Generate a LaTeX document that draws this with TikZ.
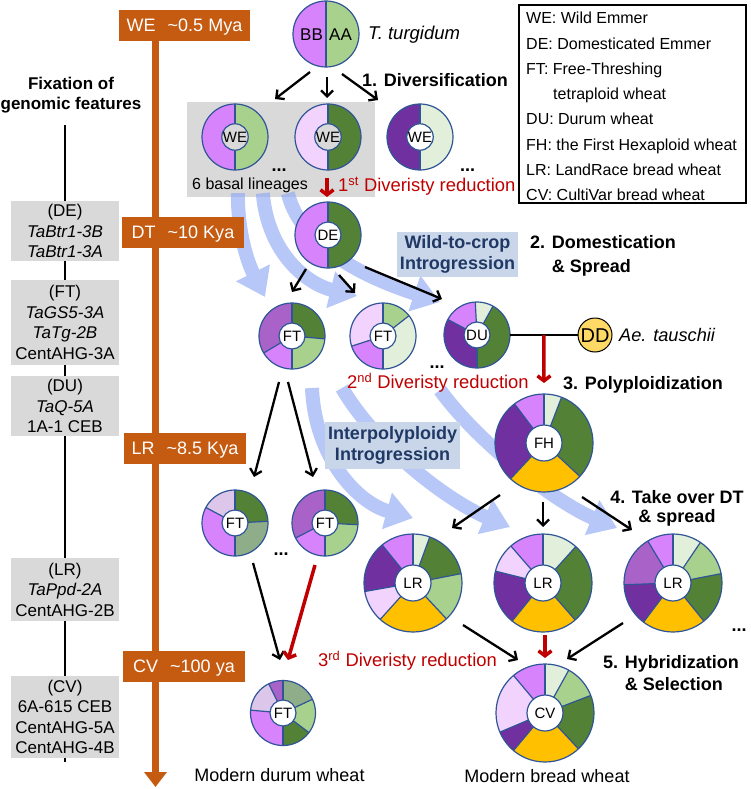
\documentclass[tikz,border=0pt]{standalone}
\usepackage{fontspec}
\setmainfont{Liberation Sans}
\usetikzlibrary{arrows.meta,calc}
\pgfdeclarelayer{bg}
\pgfdeclarelayer{bands}
\pgfsetlayers{bg,bands,main}
\definecolor{cPink}{HTML}{D683FC}
\definecolor{cLGreen}{HTML}{A9D18E}
\definecolor{cDkGreen}{HTML}{538135}
\definecolor{cDkPurple}{HTML}{7030A0}
\definecolor{cVLPink}{HTML}{F2D3FD}
\definecolor{cVLGreen}{HTML}{E2EFDA}
\definecolor{cMPurple}{HTML}{A963C8}
\definecolor{cLav}{HTML}{DCC6EA}
\definecolor{cGrayGreen}{HTML}{8FAD88}
\definecolor{cYellow}{HTML}{FFC000}
\definecolor{cPieLine}{HTML}{2F5597}
\definecolor{cOrange}{HTML}{C55A11}
\definecolor{cGray}{HTML}{D9D9D9}
\definecolor{cIntro}{HTML}{C9D6EA}
\definecolor{cNavy}{HTML}{1F3864}
\definecolor{cRed}{HTML}{C00000}
\definecolor{cGold}{HTML}{FFD966}
\definecolor{cBand}{HTML}{8CA6F4}
\newcommand{\fsz}[1]{\fontsize{#1}{#1}\selectfont}
\tikzset{
  pnode/.style={circle, inner sep=0pt, outer sep=0pt},
  pieline/.style={draw=cPieLine, line width=1.2pt},
  obox/.style={fill=cOrange, text=white, font=\fsz{18}, inner sep=0pt, minimum height=31pt, text height=12.9pt, text depth=0pt},
  gbox/.style={fill=cGray, font=\fontsize{17}{20.5}\selectfont, align=center, inner sep=0pt, minimum width=108pt},
  ibox/.style={fill=cIntro, text=cNavy, font=\bfseries\fontsize{18}{21}\selectfont, align=center, inner sep=0pt},
  btxt/.style={font=\bfseries\fsz{18}, inner sep=0pt},
  rtxt/.style={text=cRed, font=\fsz{18.4}, inner sep=0pt},
  ntxt/.style={font=\fsz{18}, inner sep=0pt},
  dotlbl/.style={font=\bfseries\fsz{18}, inner sep=0pt},
  arr/.style={line width=2.3pt, -{Straight Barb[length=6pt,width=12pt]}},
  redarr/.style={draw=cRed, line width=3.5pt, -{Straight Barb[length=5pt,width=13pt]}},
  band/.style={draw=cBand, line width=14pt, -{Triangle[width=36pt,length=27pt]}},
  bandgrp/.style={transparency group, opacity=0.62},
  vline/.style={line width=2.2pt},
}
\newcommand{\drawpie}[6]{%
  \foreach \sa/\sb/\sc in {#6}{%
    \fill[\sc] (#1.center) -- ++(\sa:#2pt) arc[start angle=\sa, end angle=\sb, radius=#2pt] -- cycle;
  }%
  \foreach \sa/\sb/\sc in {#6}{%
    \draw[pieline] (#1.center) -- ++(\sa:#2pt);
  }%
  \draw[pieline] (#1.center) circle[radius=#2pt];
  \node[circle, fill=#5, pieline, minimum size=#3*2pt, inner sep=0pt, font=\fsz{15}, text height=10.7pt, text depth=0pt] (#1in) at (#1.center) {#4};
}
\begin{document}
\begin{tikzpicture}[x=1pt,y=-1pt]
\useasboundingbox (0,0) rectangle (750,789);
\begin{pgfonlayer}{bg}
\fill[white] (0,0) rectangle (750,789);
\node[fill=cGray, minimum width=188pt, minimum height=95pt, inner sep=0pt] (basal) at (281,149.5) {};
\end{pgfonlayer}

% ---------- left column ----------
\node[font=\bfseries\fontsize{17}{20.5}\selectfont, align=center, inner sep=0pt] (fix) at (71,95) {Fixation of\\genomic features};
\node[gbox, minimum height=60pt] (gDE) at (65,231) {(DE)\\\textit{TaBtr1-3B}\\\textit{TaBtr1-3A}};
\node[gbox, minimum height=85pt] (gFT) at (65,322.5) {(FT)\\\textit{TaGS5-3A}\\\textit{TaTg-2B}\\CentAHG-3A};
\node[gbox, minimum height=60pt] (gDU) at (65,406) {(DU)\\\textit{TaQ-5A}\\1A-1 CEB};
\node[gbox, minimum height=63pt] (gLR) at (65,589.5) {(LR)\\\textit{TaPpd-2A}\\CentAHG-2B};
\node[gbox, minimum height=82pt] (gCV) at (65,717) {(CV)\\6A-615 CEB\\CentAHG-5A\\CentAHG-4B};

% ---------- timeline ----------
\node[obox, minimum width=131pt] (tWE) at (184.5,25.5) {WE\hspace{12pt}\textasciitilde0.5 Mya};
\node[obox, minimum width=122pt] (tDT) at (183,232.5) {DT\hspace{12pt}\textasciitilde10 Kya};
\node[obox, minimum width=122pt] (tLR) at (185,448.5) {LR\hspace{12pt}\textasciitilde8.5 Kya};
\node[obox, minimum width=122pt] (tCV) at (184,666) {CV\hspace{12pt}\textasciitilde100 ya};
\coordinate (tlend) at (155.5,787);
\begin{pgfonlayer}{bg}
\draw[line width=7.6pt, draw=cOrange, -{Triangle[width=22pt,length=15pt]}] (tWE.south -| tlend) -- (tlend);
\draw[vline] ($(fix.south -| gDE.north)+(0,12)$) -- ($(gCV.south)+(0,4)$);
\end{pgfonlayer}

% ---------- legend ----------
\node[draw, line width=1.5pt, minimum width=227pt, minimum height=198pt, inner sep=0pt] (leg) at (632.5,104) {};
\node[anchor=north west, align=left, inner sep=0pt, font=\fontsize{16}{25.3}\selectfont] (legtxt) at (526,12) {WE: Wild Emmer\\DE: Domesticated Emmer\\FT: Free-Threshing\\\hspace*{27pt}tetraploid wheat\\DU: Durum wheat\\FH: the First Hexaploid wheat\\LR: LandRace bread wheat\\CV: CultiVar bread wheat};

% ---------- pie positions ----------
\node[pnode, minimum size=66pt] (tt) at (326,34) {};
\node[pnode, minimum size=66pt] (we1) at (235,137) {};
\node[pnode, minimum size=66pt] (we2) at (328,137) {};
\node[pnode, minimum size=66pt] (we3) at (420,137) {};
\node[pnode, minimum size=66pt] (de) at (328,235) {};
\node[pnode, minimum size=66pt] (ft1) at (292,336) {};
\node[pnode, minimum size=66pt] (ft2) at (383,336) {};
\node[pnode, minimum size=66pt] (du) at (477,335) {};
\node[pnode, minimum size=98pt] (fh) at (544,443) {};
\node[pnode, minimum size=66pt] (ft3) at (235,523) {};
\node[pnode, minimum size=66pt] (ft4) at (325,523) {};
\node[pnode, minimum size=98pt] (lr1) at (413,583) {};
\node[pnode, minimum size=98pt] (lr2) at (543,583) {};
\node[pnode, minimum size=98pt] (lr3) at (673,583) {};
\node[pnode, minimum size=98pt] (cv) at (545,713) {};
\node[pnode, minimum size=65pt] (ftd) at (283,713) {};

% ---------- introgression bands ----------
\begin{pgfonlayer}{bands}
\begin{scope}[bandgrp]
\draw[band] ($(basal.south west)+(51,-4)$) .. controls +(0,45) and +(-15,-30) .. ($(ft1)+(-27,-39)$);
\end{scope}
\begin{scope}[bandgrp]
\draw[band] ($(basal.south west)+(76,-4)$) .. controls +(5,60) and +(-50,-12) .. ($(ft2)+(-26,-40)$);
\end{scope}
\begin{scope}[bandgrp]
\draw[band] ($(basal.south west)+(101,-4)$) .. controls +(15,60) and +(-60,-20) .. ($(du)+(-37,-33)$);
\end{scope}
\begin{scope}[bandgrp]
\draw[band] ($(ft1)+(20,52)$) .. controls +(3,70) and +(-55,-15) .. ($(lr1)+(0,-65)$);
\end{scope}
\begin{scope}[bandgrp]
\draw[band] ($(ft1)+(50,52)$) .. controls +(35,60) and +(-60,-25) .. ($(lr2)+(-33,-56)$);
\end{scope}
\begin{scope}[bandgrp]
\draw[band] ($(ft2)+(57,54)$) .. controls +(40,55) and +(-60,-25) .. ($(lr3)+(-56,-55)$);
\end{scope}
\end{pgfonlayer}

\node[ibox, minimum width=121pt, minimum height=45pt] (wtc) at (457.5,254) {Wild-to-crop\\Introgression};
\node[ibox, minimum width=135pt, minimum height=47pt] (ipi) at (392.5,445) {Interpolyploidy\\Introgression};

% ---------- pies ----------
\fill[cPink] (tt.center) -- ++(90:33pt) arc[start angle=90, end angle=270, radius=33pt] -- cycle;
\fill[cLGreen] (tt.center) -- ++(-90:33pt) arc[start angle=-90, end angle=90, radius=33pt] -- cycle;
\draw[pieline] (tt.north) -- (tt.south);
\draw[pieline] (tt.center) circle[radius=33pt];
\node[font=\fsz{17}, inner sep=0pt, anchor=base] (bb) at (311.5,40.1) {BB};
\node[font=\fsz{17}, inner sep=0pt, anchor=base] (aa) at (340.5,40.1) {AA};

\drawpie{we1}{33}{13}{WE}{cGray}{90/270/cPink, -90/90/cLGreen}
\drawpie{we2}{33}{13}{WE}{cGray}{90/270/cVLPink, -90/90/cDkGreen}
\drawpie{we3}{33}{13}{WE}{white}{90/270/cDkPurple, -90/90/cVLGreen}
\drawpie{de}{33}{13}{DE}{white}{90/270/cPink, -90/90/cDkGreen}
\drawpie{ft1}{33}{13}{FT}{white}{-5/90/cDkGreen, 90/211/cMPurple, 211/270/cPink, 270/355/cLGreen}
\drawpie{ft2}{33}{13}{FT}{white}{38/90/cLGreen, 90/198/cVLPink, 198/270/cPink, 270/398/cVLGreen}
\drawpie{du}{33}{13}{DU}{white}{-90/61/cDkGreen, 61/93/cVLGreen, 93/152/cPink, 152/270/cDkPurple}
\drawpie{fh}{49}{18}{FH}{white}{-43/69/cDkGreen, 69/90/cVLGreen, 90/127/cPink, 127/227/cDkPurple, 227/317/cYellow}
\drawpie{ft3}{33}{13}{FT}{white}{3/90/cDkGreen, 90/152/cLav, 152/270/cPink, 270/363/cGrayGreen}
\drawpie{ft4}{33}{13}{FT}{white}{-3/90/cDkGreen, 90/207/cMPurple, 207/270/cPink, 270/357/cLGreen}
\drawpie{lr1}{49}{18}{LR}{white}{11/70/cDkGreen, 70/90/cVLGreen, 90/129/cPink, 129/190/cDkPurple, 190/228/cVLPink, 228/313/cYellow, 313/371/cLGreen}
\drawpie{lr2}{49}{18}{LR}{white}{-49/48/cDkGreen, 48/90/cVLGreen, 90/131/cPink, 131/166/cVLPink, 166/231/cDkPurple, 231/311/cYellow}
\drawpie{lr3}{49}{18}{LR}{white}{11/56/cLGreen, 56/90/cVLGreen, 90/121/cPink, 121/182/cMPurple, 182/233/cDkPurple, 233/309/cYellow, 309/371/cDkGreen}
\drawpie{cv}{49}{18}{CV}{white}{21/61/cLGreen, 61/90/cVLGreen, 90/130/cPink, 130/203/cVLPink, 203/230/cDkPurple, 230/313/cYellow, 313/381/cDkGreen}
\drawpie{ftd}{32.5}{13}{FT}{white}{25/90/cGrayGreen, 90/116/cMPurple, 116/175/cLav, 175/270/cPink, 270/323/cDkGreen, 323/385/cLGreen}

\node[circle, fill=cGold, draw=black, line width=1pt, minimum size=34pt, inner sep=0pt, font=\fsz{20}, text height=14.3pt, text depth=0pt] (dd) at (595,335) {DD};

% ---------- texts ----------
\node[font=\itshape\fsz{18.5}, inner sep=0pt, anchor=base west] (ttl) at (368,39.7) {T. turgidum};
\node[font=\itshape\fsz{18.2}, inner sep=0pt, anchor=base west] (ael) at (619,341.6) {Ae. tauschii};
\node[btxt, anchor=base west] (s1) at (362,86.5) {1. Diversification};
\node[font=\bfseries\fontsize{18}{24}\selectfont, align=left, inner sep=0pt, anchor=west] (s2) at (530,255.9) {2. Domestication\\\hphantom{2. }\& Spread};
\node[btxt, anchor=base west] (s3) at (563,389.5) {3. Polyploidization};
\node[font=\bfseries\fontsize{18}{19.5}\selectfont, align=center, inner sep=0pt] (s4) at (677,508.3) {4. Take over DT\\\& spread};
\node[font=\bfseries\fontsize{18}{22}\selectfont, align=left, inner sep=0pt, anchor=west] (s5) at (603,672.7) {5. Hybridization\\\hphantom{5. }\& Selection};
\node[font=\fsz{16}, inner sep=0pt, anchor=base west] (bl) at (192,189.8) {6 basal lineages};
\node[rtxt, anchor=base west] (r1) at (338,191.6) {1\textsuperscript{st} Diveristy reduction};
\node[rtxt, anchor=base west] (r2) at (347,388.6) {2\textsuperscript{nd} Diveristy reduction};
\node[rtxt, anchor=base west] (r3) at (318,666.6) {3\textsuperscript{rd} Diveristy reduction};
\node[ntxt, anchor=base] (mdw) at (279.5,781.5) {Modern durum wheat};
\node[ntxt, anchor=base] (mbw) at (547,782) {Modern bread wheat};
\node[dotlbl] (d1) at (279,170) {...};
\node[dotlbl] (d2) at (467.5,170) {...};
\node[dotlbl] (d3) at (437,367) {...};
\node[dotlbl] (d4) at (281,554) {...};
\node[dotlbl] (d5) at (739,630) {...};

% ---------- connectors ----------
\draw[arr] ($(tt)+(-16,38)$) -- ($(we1)+(40,-38)$);
\draw[arr] ($(tt)+(1,43)$) -- ($(we2)+(-1,-39)$);
\draw[arr] ($(tt)+(16,40)$) -- ($(we3)+(-42,-37)$);
\draw[redarr] ($(we2)+(-1,41)$) -- ($(de)+(-1,-38)$);
\draw[arr] ($(de)+(-22,34)$) -- ($(ft1)+(0,-44)$);
\draw[arr] ($(de)+(11,40)$) -- ($(ft2)+(-28,-43)$);
\draw[arr] ($(de)+(37,32)$) -- ($(du)+(-35,-36)$);
\draw[line width=2pt] (du) -- (dd);
\coordinate (jn) at ($(du.east)!0.5!(dd.west)$);
\draw[redarr] (jn) -- ($(fh)+(0,-60)$);
\draw[arr] ($(ft1)+(-13,46)$) -- ($(ft3)+(19,-46)$);
\draw[arr] ($(ft1)+(-4,46)$) -- ($(ft4)+(-12,-46)$);
\draw[arr] ($(ft3)+(18,40)$) -- ($(ftd)+(-3,-53)$);
\draw[redarr] ($(ft4)+(-10,42)$) -- ($(ftd)+(5,-53)$);
\draw[arr] ($(fh)+(-44,52)$) -- ($(lr1)+(39,-55)$);
\draw[arr] ($(fh)+(-1,59)$) -- ($(lr2)+(0,-56)$);
\draw[arr] ($(fh)+(38,54)$) -- ($(lr3)+(-41,-53)$);
\draw[arr] ($(lr1)+(50,42)$) -- ($(cv)+(-27,-53)$);
\draw[redarr] ($(lr2)+(2,52)$) -- ($(cv)+(0,-55)$);
\draw[arr] ($(lr3)+(-50,40)$) -- ($(cv)+(22,-54)$);
\end{tikzpicture}
\end{document}
